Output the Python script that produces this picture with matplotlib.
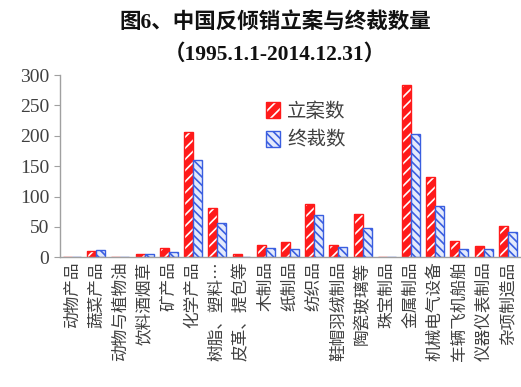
import numpy as np
import matplotlib
matplotlib.use('Agg')
import matplotlib.pyplot as plt
from matplotlib.patches import Patch

plt.rcParams['font.family'] = ['Liberation Serif', 'Noto Sans CJK SC']
plt.rcParams['hatch.linewidth'] = 1.2

# 数据
categories = ['动物产品', '蔬菜产品', '动物与植物油', '饮料酒烟草', '矿产品',
              '化学产品', '树脂、塑料…', '皮革、提包等', '木制品', '纸制品',
              '纺织品', '鞋帽羽绒制品', '陶瓷玻璃等', '珠宝制品', '金属制品',
              '机械电气设备', '车辆飞机船舶', '仪器仪表制品', '杂项制造品']
lian = [1, 10, 0, 5, 15, 206, 81, 5, 21, 26, 87, 20, 71, 0, 283, 133, 27, 19, 52]
zhongcai = [1, 12, 0, 5, 9, 160, 57, 1, 16, 14, 70, 17, 49, 0, 203, 85, 14, 13, 41]

red = '#ff1a1a'
blue = '#3a5ee0'
gray = '#404040'

fig = plt.figure(figsize=(5.21, 3.87), dpi=100)
ax = fig.add_axes([0.115, 0.335, 0.883, 0.471])

x = np.arange(len(categories))
w = 0.37
# 立案数: 红色底 + 白色斜线
ax.bar(x - w / 2, lian, w, color=red, edgecolor='white', hatch='///', linewidth=0)
ax.bar(x - w / 2, lian, w, fill=False, edgecolor=red, linewidth=1.0)
# 终裁数: 浅蓝底 + 蓝色细斜线
ax.bar(x + w / 2, zhongcai, w, color='#e4eafc', edgecolor=blue, hatch='\\\\\\\\', linewidth=0)
ax.bar(x + w / 2, zhongcai, w, fill=False, edgecolor=blue, linewidth=1.0)

ax.set_xlim(-0.5, len(categories) - 0.5)
ax.set_ylim(0, 300)
ax.set_yticks(np.arange(0, 301, 50))
ax.tick_params(axis='y', labelsize=14, colors=gray, length=4, width=0.8, color='#a0a0a0')
ax.tick_params(axis='x', length=0, pad=3)
ax.set_xticks(x)
ax.set_xticklabels(categories, rotation=90, va='top', ha='center', fontsize=12,
                   color=gray, family=['Noto Sans CJK SC'])

for s in ['top', 'right']:
    ax.spines[s].set_visible(False)
for s in ['left', 'bottom']:
    ax.spines[s].set_color('#a0a0a0')
    ax.spines[s].set_linewidth(1.0)

h1 = (Patch(facecolor=red, edgecolor='white', hatch='///', linewidth=0),
      Patch(fill=False, edgecolor=red, linewidth=1.0))
h2 = (Patch(facecolor='#e4eafc', edgecolor=blue, hatch='\\\\\\\\', linewidth=0),
      Patch(fill=False, edgecolor=blue, linewidth=1.0))
leg = ax.legend([h1, h2], ['立案数', '终裁数'], loc='upper left', bbox_to_anchor=(0.41, 0.955),
                frameon=False, prop={'family': 'Noto Sans CJK SC', 'size': 14},
                handlelength=0.7, handleheight=0.9, handletextpad=0.4, labelspacing=0.4)
for t in leg.get_texts():
    t.set_color(gray)

fig.text(0.528, 0.943, '图6、中国反倾销立案与终裁数量', ha='center', va='center',
         fontsize=15.5, fontweight='bold', color='#111111')
fig.text(0.528, 0.858, '（1995.1.1-2014.12.31）', ha='center', va='center',
         fontsize=15.5, fontweight='bold', color='#111111')

fig.savefig('out.png', dpi=100)
